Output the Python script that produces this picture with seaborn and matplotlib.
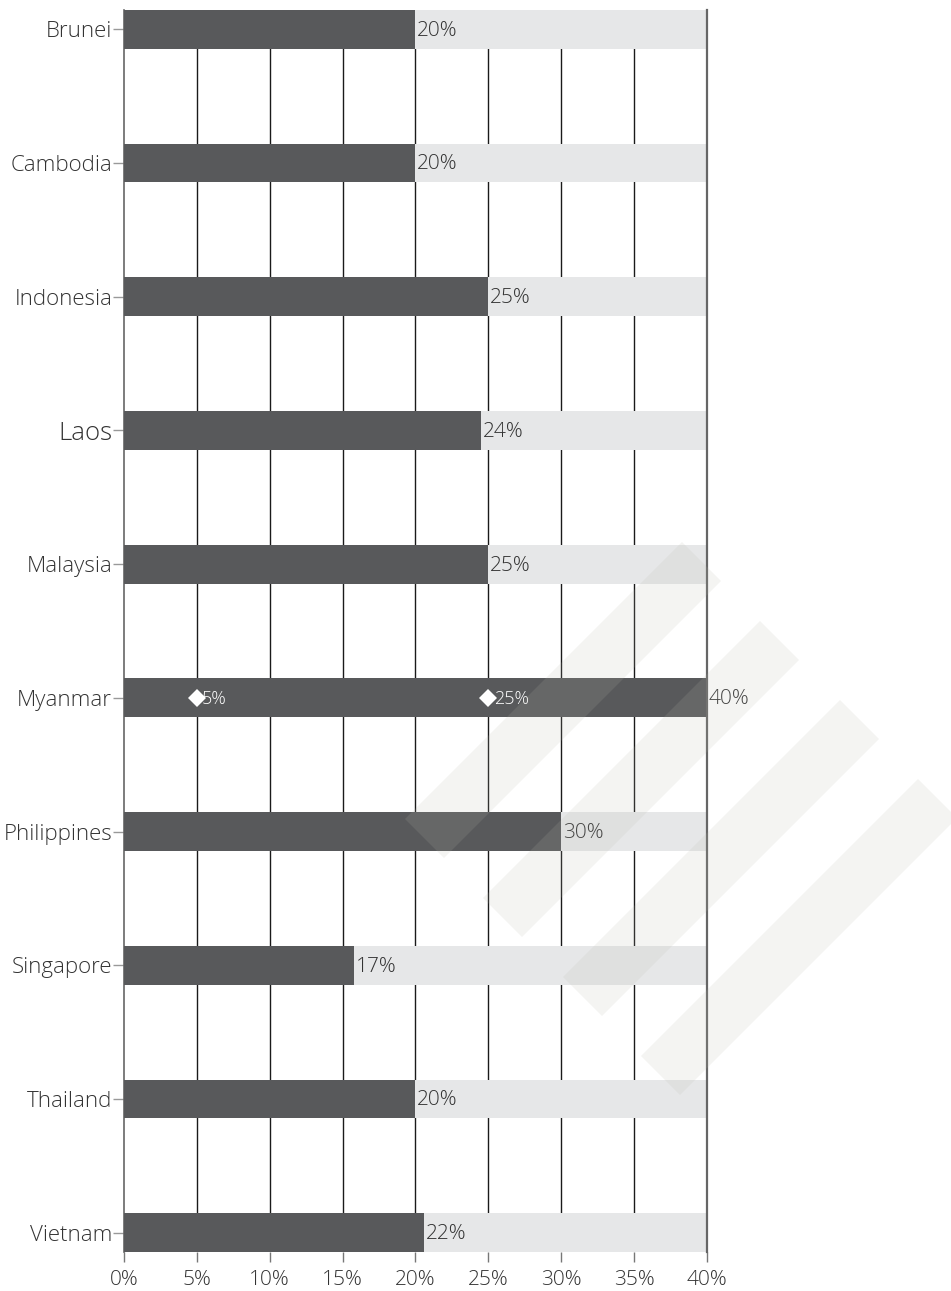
import matplotlib
matplotlib.use("Agg")
import matplotlib.pyplot as plt
from matplotlib.patches import Polygon
import seaborn as sns
import pandas as pd

# ---- data ----
countries = ["Brunei", "Cambodia", "Indonesia", "Laos", "Malaysia", "Myanmar",
             "Philippines", "Singapore", "Thailand", "Vietnam"]
bar_values = [20, 20, 25, 24.5, 25, 40, 30, 15.8, 20, 20.6]
value_labels = ["20%", "20%", "25%", "24%", "25%", "40%", "30%", "17%", "20%", "22%"]
scale_max = [40] * len(countries)
marker_country = "Myanmar"
marker_values = [5, 25]
marker_labels = ["5%", "25%"]
x_ticks = [0, 5, 10, 15, 20, 25, 30, 35, 40]
x_tick_labels = ["0%", "5%", "10%", "15%", "20%", "25%", "30%", "35%", "40%"]

df = pd.DataFrame({"country": countries, "value": bar_values, "max": scale_max})

sns.set_theme(style="white")
plt.rcParams["font.family"] = ["Open Sans", "DejaVu Sans"]
plt.rcParams["font.weight"] = "light"

W, H = 951, 1291
fig = plt.figure(figsize=(W / 100, H / 100), dpi=100)
ax = fig.add_axes([124 / W, 1 - 1252 / H, (707 - 124) / W, (1252 - 10) / H])

DARK = "#58595b"
LIGHT = "#e6e7e8"
TXT = "#333333"

for x in x_ticks[1:-1]:
    ax.axvline(x, color="#1a1a1a", lw=1.0, zorder=0)

sns.barplot(data=df, x="max", y="country", orient="h", color=LIGHT,
            width=0.29, saturation=1, ax=ax, zorder=2)
sns.barplot(data=df, x="value", y="country", orient="h", color=DARK,
            width=0.29, saturation=1, ax=ax, zorder=3)

for p in ax.patches:
    p.set_edgecolor("none")

ax.set_xlim(0, 40)
ax.set_ylim(len(countries) - 1 + 0.145, -0.145)

# value labels
for i, (v, lab) in enumerate(zip(bar_values, value_labels)):
    ax.annotate(lab, (v, i), xytext=(1.2, -1), textcoords="offset points",
                ha="left", va="center", fontsize=15, color=TXT,
                fontweight="light", zorder=5)

# markers on Myanmar
mi = countries.index(marker_country)
ax.plot(marker_values, [mi] * len(marker_values), linestyle="none", marker="D",
        markersize=9, color="white", markeredgewidth=0, zorder=6)
for v, lab in zip(marker_values, marker_labels):
    ax.annotate(lab, (v, mi), xytext=(3.8, -0.5), textcoords="offset points",
                ha="left", va="center", fontsize=13, color="white",
                fontweight="light", zorder=6)

ax.set_xticks(x_ticks)
ax.set_xticklabels(x_tick_labels)
ax.set_xlabel("")
ax.set_ylabel("")
ax.tick_params(axis="x", length=7, width=1, color="#777777", labelcolor=TXT,
               labelsize=15, pad=6, bottom=True)
ax.tick_params(axis="y", length=8, width=1, color="#999999", labelcolor=TXT,
               labelsize=16, pad=0.5, left=True)
for lab in ax.get_yticklabels():
    lab.set_fontweight("light")
    if lab.get_text() == "Laos":
        lab.set_fontsize(18.5)
for lab in ax.get_xticklabels():
    lab.set_fontweight("light")

for s in ["top", "bottom"]:
    ax.spines[s].set_visible(False)
ax.spines["left"].set_color("#666666")
ax.spines["left"].set_linewidth(1.2)
ax.spines["right"].set_color("#666666")
ax.spines["right"].set_linewidth(1.6)
ax.spines["right"].set_zorder(7)

# decorative watermark stripes (pixel coordinates)
tops = [(682, 542), (760, 621), (840, 700), (918, 779)]
for tx, ty in tops:
    pts = [(tx, ty), (tx + 39, ty + 39), (tx + 39 - 277, ty + 39 + 277), (tx - 277, ty + 277)]
    poly = Polygon([(x / W, 1 - y / H) for x, y in pts], closed=True,
                   transform=fig.transFigure, facecolor="#b8b8ae", alpha=0.15,
                   edgecolor="none", zorder=10)
    fig.patches.append(poly)

fig.savefig("out.png", dpi=100)
